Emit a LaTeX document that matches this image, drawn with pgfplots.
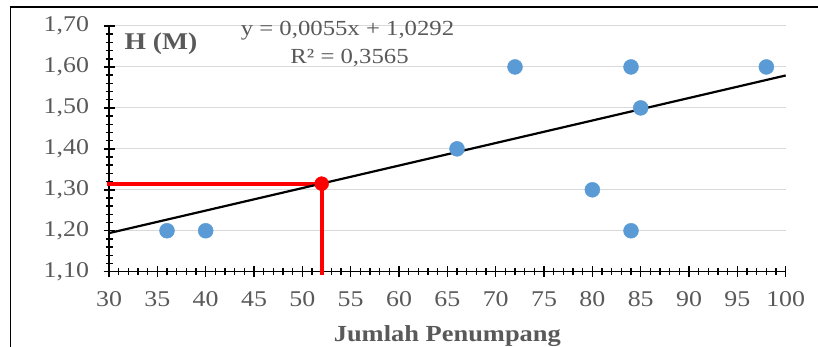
\documentclass[border=0pt]{standalone}
\usepackage{pgfplots}
\pgfplotsset{compat=1.18}
\usepackage{fontspec}
\setmainfont{Liberation Serif}[FakeStretch=1.15]
\definecolor{txt}{HTML}{595959}
\definecolor{blu}{HTML}{5B9BD5}
\definecolor{grd}{HTML}{D9D9D9}
\begin{document}
\begin{tikzpicture}
\useasboundingbox (0,0) rectangle (818pt,347pt);
\draw[line width=1.3pt, black] (10.5pt,0pt) -- (10.5pt,340pt) -- (818pt,340pt);
\begin{axis}[
  at={(109pt,75.3pt)}, anchor=south west,
  scale only axis, width=676.7pt, height=245.7pt,
  xmin=30, xmax=100, ymin=1.1, ymax=1.7,
  xtick={30,35,40,45,50,55,60,65,70,75,80,85,90,95,100},
  ytick={1.1,1.2,1.3,1.4,1.5,1.6,1.7},
  minor x tick num=4, minor y tick num=4,
  axis lines*=left,
  ymajorgrids, grid style={grd, line width=1pt},
  tick align=center, major tick length=11pt, minor tick length=7pt,
  tick style={black, line width=1.5pt},
  axis line style={black, line width=1.5pt},
  /pgf/number format/assume math mode=true,
  ticklabel style={font=\fontsize{22.5}{26}\selectfont, text=txt},
  yticklabel style={/pgf/number format/.cd, fixed, fixed zerofill, precision=2, use comma, /tikz/.cd, xshift=-11pt},
  xticklabel style={yshift=-11pt},
  xlabel={Jumlah Penumpang},
  xlabel style={font=\fontsize{23}{26}\selectfont\bfseries, text=txt, at={(axis description cs:0.5,0)}, anchor=base, yshift=-70pt},
  clip=false,
]
\addplot[only marks, mark=*, mark size=7.5pt, draw=blu, fill=blu, mark options={draw=blu, fill=blu}] coordinates {
  (36,1.2) (40,1.2) (66,1.4) (72,1.6) (80,1.3) (84,1.6) (84,1.2) (85,1.5) (98,1.6)
};
\addplot[red, line width=4pt] coordinates {(29.8,1.315) (52,1.315)};
\addplot[red, line width=4pt] coordinates {(52,1.315) (52,1.0927)};
\addplot[only marks, mark=*, mark size=7pt, draw=red, fill=red, mark options={draw=red, fill=red}] coordinates {(52,1.315)};
\addplot[black, line width=2.2pt] coordinates {(30,1.1942) (100,1.5792)};
\node[anchor=base west, font=\fontsize{24}{28}\selectfont\bfseries, text=txt] at (rel axis cs:0,1) [xshift=12pt, yshift=-24pt] {H (M)};
\node[anchor=base, font=\fontsize{21.5}{26}\selectfont, text=txt] at (axis cs:54.67,1.678) {y = 0,0055x + 1,0292};
\node[anchor=base, font=\fontsize{21.5}{26}\selectfont, text=txt] at (axis cs:54.88,1.6096) {R² = 0,3565};
\end{axis}
\end{tikzpicture}
\end{document}
